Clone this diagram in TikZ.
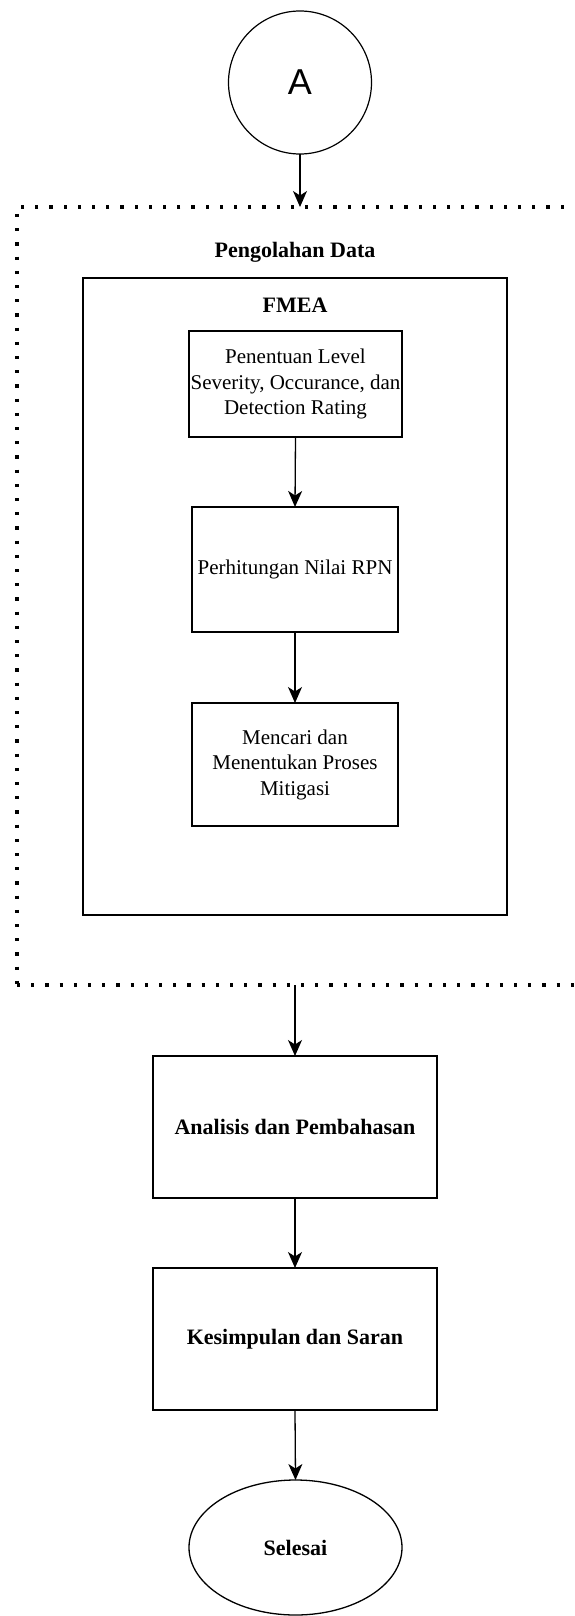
\documentclass[tikz,border=0pt]{standalone}
\usepackage{fontspec}
\setmainfont{Liberation Serif}
\newfontfamily\sansA{Liberation Sans}
\usetikzlibrary{arrows.meta,shapes.geometric}
\tikzset{
  every node/.style={inner sep=0pt, outer sep=0pt},
  proc/.style={draw=black, line width=1.3pt, rectangle, align=center,
    font=\fontsize{21}{25.5}\selectfont},
  procb/.style={proc, font=\fontsize{22}{25.5}\selectfont\bfseries},
  lbl/.style={align=center, font=\fontsize{22}{25.5}\selectfont\bfseries},
  conn/.style={line width=1.3pt, -{Stealth[length=16pt,width=14pt,inset=4.5pt]}},
  container/.style={draw=black, line width=3.2pt, dash pattern=on 3.2pt off 11pt, rectangle},
  group/.style={draw=black, line width=1.5pt, rectangle},
}
\begin{document}
\begin{tikzpicture}[x=1pt,y=-1pt]
\useasboundingbox (0,0) rectangle (574,1616);
\begin{scope}
\clip (0,0) rectangle (574,1616);
% start connector
\node[draw=black, line width=1.2pt, circle, minimum size=143pt, font=\sansA\fontsize{36}{40}\selectfont] (A) at (300,82.5) {A};
% dotted container (right side runs off the page)
\node[container, minimum width=566pt, minimum height=778pt] (pd) at (300,596) {};
\node[lbl] (pdl) at (295,252) {Pengolahan Data};
% FMEA group
\node[group, minimum width=424pt, minimum height=637pt] (fmea) at (295,596.5) {};
\node[lbl] (fmeal) at (295,305) {FMEA};
\node[proc, minimum width=213pt, minimum height=106pt] (b1) at (295.5,384) {Penentuan Level\\Severity, Occurance, dan\\Detection Rating};
\node[proc, minimum width=206pt, minimum height=125pt] (b2) at (295,569.5) {Perhitungan Nilai RPN};
\node[proc, minimum width=206pt, minimum height=123pt] (b3) at (295,764.5) {Mencari dan\\Menentukan Proses\\Mitigasi};
\node[procb, minimum width=284pt, minimum height=142pt] (b4) at (295,1127) {Analisis dan Pembahasan};
\node[procb, minimum width=284pt, minimum height=142pt] (b5) at (295,1339) {Kesimpulan dan Saran};
\node[draw=black, line width=1.3pt, ellipse, minimum width=213pt, minimum height=135pt, font=\fontsize{22}{25.5}\selectfont\bfseries] (end) at (295.5,1547.5) {Selesai};
% connectors
\draw[conn] (A.south) -- (pd.north);
\draw[conn] (b1.south) -- (b2.north);
\draw[conn] (b2.south) -- (b3.north);
\draw[conn] (b4.north |- pd.south) -- (b4.north);
\draw[conn] (b4.south) -- (b5.north);
\draw[conn] (b5.south) -- (end.north);
\end{scope}
\end{tikzpicture}
\end{document}
